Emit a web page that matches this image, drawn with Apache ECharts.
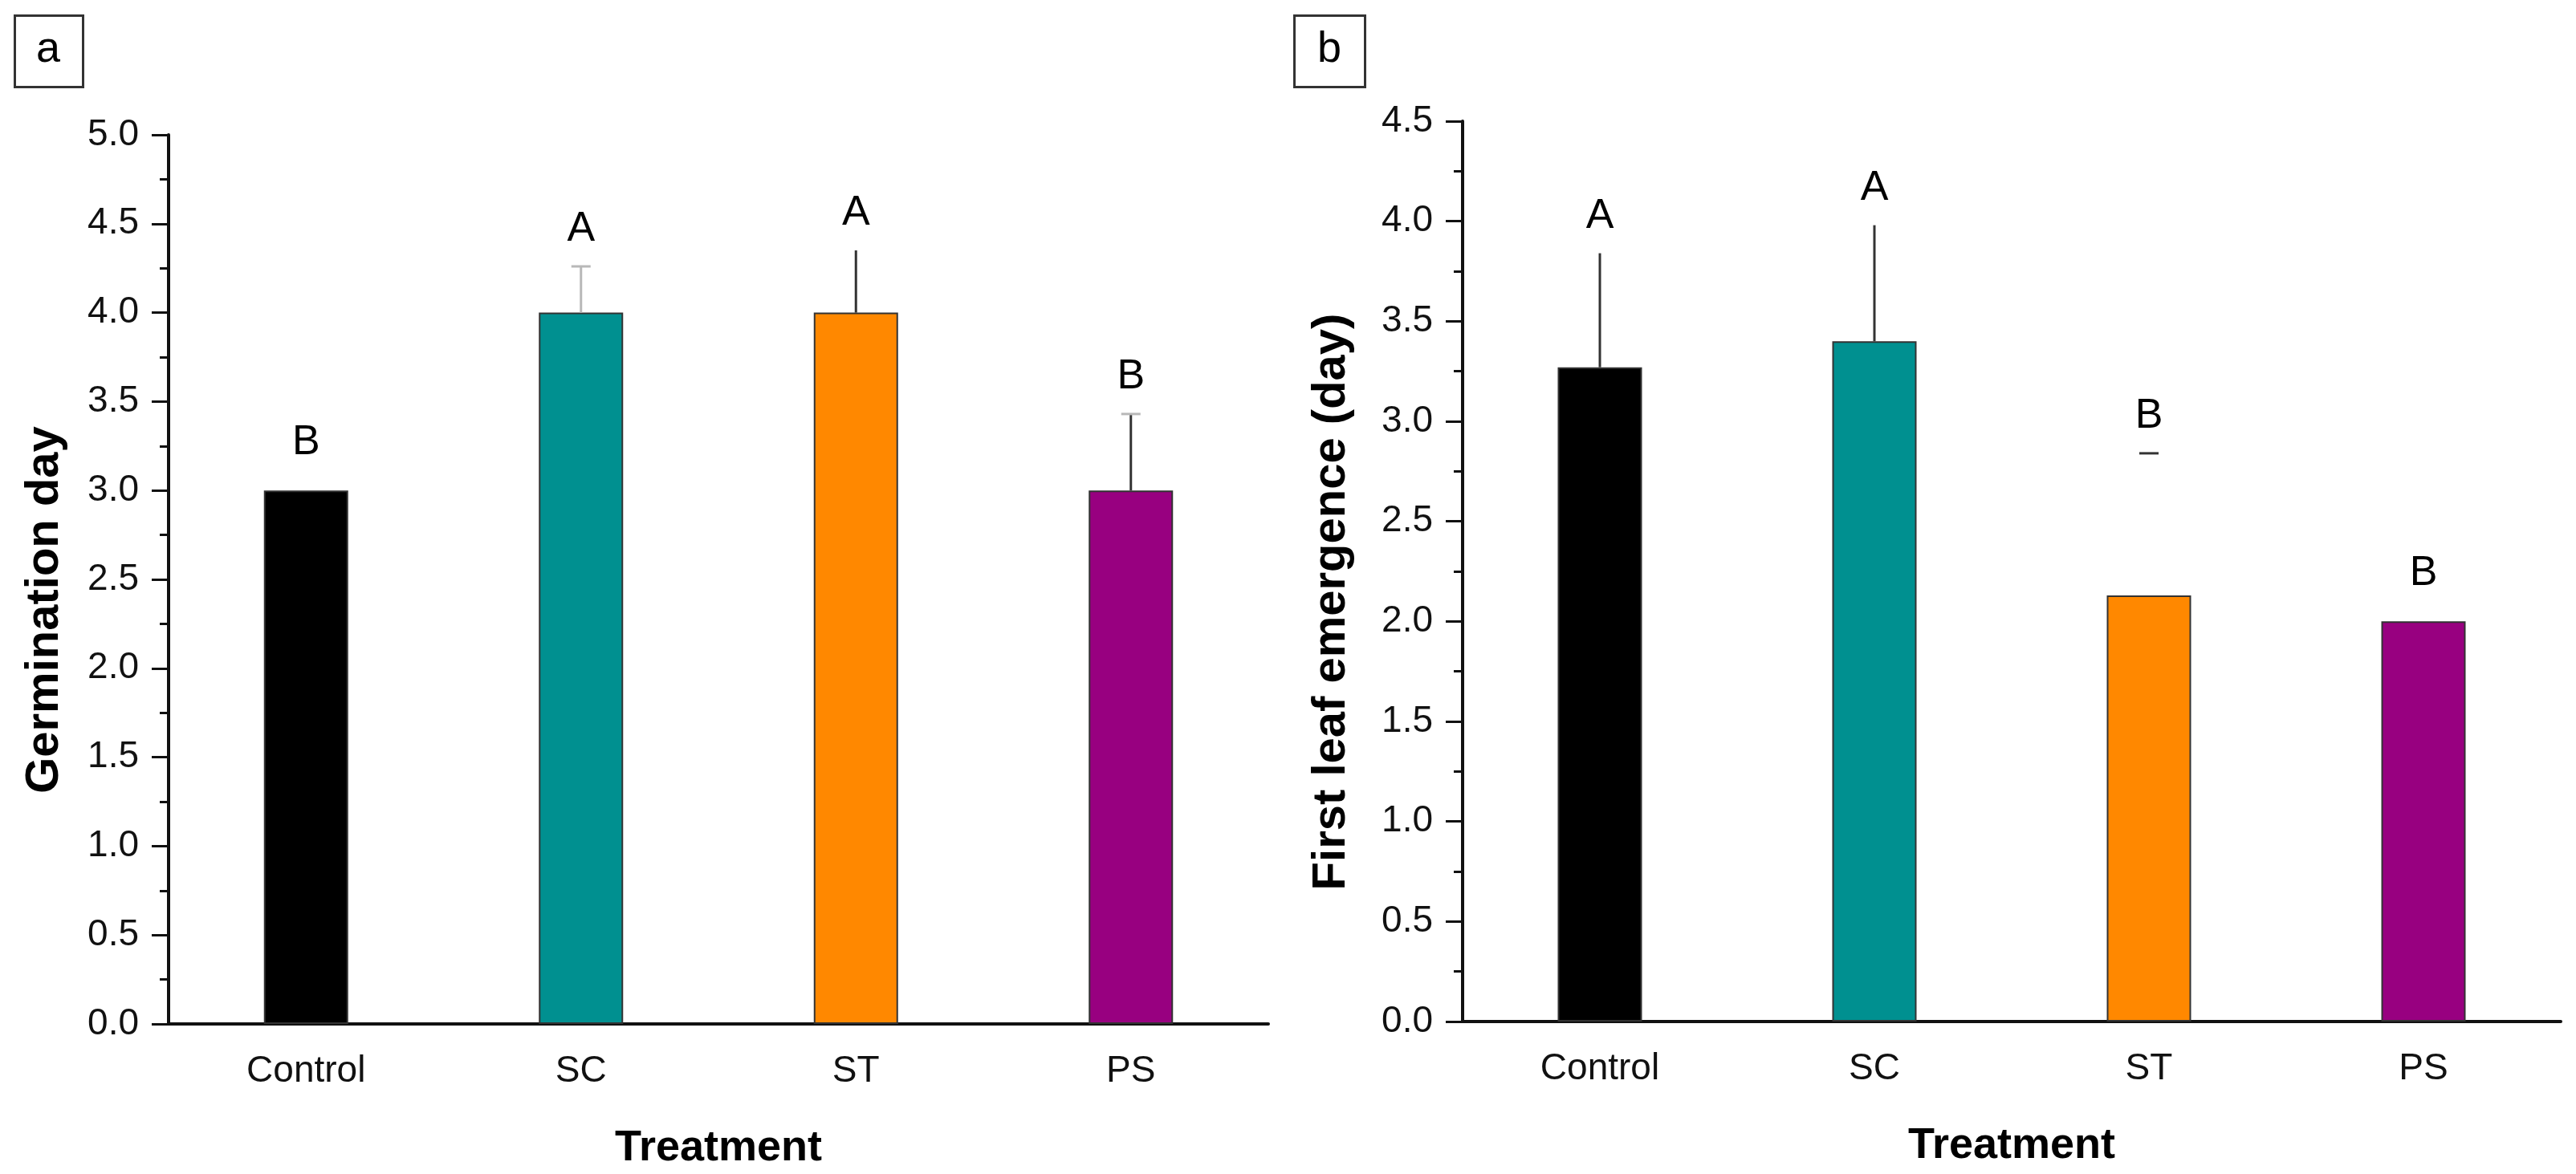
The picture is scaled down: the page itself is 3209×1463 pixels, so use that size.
<!DOCTYPE html>
<html>
<head>
<meta charset="utf-8">
<script src="https://cdn.jsdelivr.net/npm/echarts@6/dist/echarts.min.js"></script>
<style>
  html, body { margin: 0; padding: 0; background: #fff; }
  #main { width: 3209px; height: 1463px; }
</style>
</head>
<body>
<div id="main"></div>
<script>
// treatments
var categories = ['Control', 'SC', 'ST', 'PS'];
var barColors = ['#000000', '#009090', '#ff8800', '#980080'];

// (a) germination day: mean and top of the error bar
var germMean = [3.0, 4.0, 4.0, 3.0];
var germErrTop = [null, 4.26, 4.35, 3.43];
var germLetters = ['B', 'A', 'A', 'B'];

// (b) first leaf emergence (day)
var leafMean = [3.27, 3.40, 2.13, 2.00];
var leafErrTop = [3.84, 3.98, 2.84, null];
var leafLetters = ['A', 'A', 'B', 'B'];

// y tick range
var germTicks = { min: 0, max: 5, interval: 0.5 };
var leafTicks = { min: 0, max: 4.5, interval: 0.5 };

// how the error whiskers look in each panel (stem / cap)
var germErrStyle = [
    null,
    { stem: '#b8b8b8', cap: '#b8b8b8' },
    { stem: '#333333', cap: null },
    { stem: '#333333', cap: '#b8b8b8' }
];
var leafErrStyle = [
    { stem: '#333333', cap: null },
    { stem: '#333333', cap: null },
    { stem: null, cap: '#333333' },
    null
];

var FONT = 'Liberation Sans, Arial, Helvetica, sans-serif';

function barData(means) {
    return means.map(function (v, i) {
        return {
            value: v,
            itemStyle: { color: barColors[i], borderColor: '#333', borderWidth: 2 }
        };
    });
}

function errData(means, tops) {
    return means.map(function (v, i) {
        return [i, v, tops[i] == null ? v : tops[i]];
    });
}

function errRender(tops, styles, letters) {
    return function (params, api) {
        var i = params.dataIndex;
        var base = api.coord([api.value(0), api.value(1)]);
        var top = api.coord([api.value(0), api.value(2)]);
        var children = [];
        var st = styles[i];
        var hasErr = tops[i] != null;
        if (hasErr && st && st.stem) {
            children.push({
                type: 'line',
                shape: { x1: base[0], y1: base[1], x2: top[0], y2: top[1] },
                style: { stroke: st.stem, lineWidth: 3 }
            });
        }
        if (hasErr && st && st.cap) {
            children.push({
                type: 'line',
                shape: { x1: top[0] - 12, y1: top[1], x2: top[0] + 12, y2: top[1] },
                style: { stroke: st.cap, lineWidth: 3 }
            });
        }
        var gap = hasErr ? 20 : 34;
        children.push({
            type: 'text',
            style: {
                text: letters[i],
                x: top[0],
                y: top[1] - gap,
                align: 'center',
                verticalAlign: 'bottom',
                fontSize: 52,
                fontFamily: FONT,
                fill: '#000'
            }
        });
        return { type: 'group', children: children };
    };
}

function xAxisCfg(gridIndex) {
    return {
        type: 'category',
        gridIndex: gridIndex,
        data: categories,
        name: 'Treatment',
        nameLocation: 'middle',
        nameGap: 128,
        nameTextStyle: { fontSize: 54, fontWeight: 'bold', fontFamily: FONT, color: '#000' },
        axisLine: { lineStyle: { color: '#111', width: 4 } },
        axisTick: { alignWithLabel: true, length: 24, lineStyle: { color: '#111', width: 3 } },
        axisLabel: { fontSize: 46, fontFamily: FONT, color: '#111', margin: 36 },
        splitLine: { show: false }
    };
}

function yAxisCfg(gridIndex, ticks, name, gap) {
    return {
        type: 'value',
        gridIndex: gridIndex,
        min: ticks.min,
        max: ticks.max,
        interval: ticks.interval,
        name: name,
        nameLocation: 'middle',
        nameGap: gap,
        nameTextStyle: {
            fontSize: 58, fontWeight: 'bold', fontFamily: FONT, color: '#000',
            padding: [0, 76, 0, 0]
        },
        axisLine: { show: true, lineStyle: { color: '#111', width: 4 } },
        axisTick: { show: true, length: 21, lineStyle: { color: '#111', width: 3 } },
        minorTick: { show: true, splitNumber: 2, length: 11, lineStyle: { color: '#111', width: 3 } },
        axisLabel: {
            fontSize: 46, fontFamily: FONT, color: '#111', margin: 37,
            formatter: function (v) { return v.toFixed(1); }
        },
        splitLine: { show: false }
    };
}

var option = {
    animation: false,
    backgroundColor: '#fff',
    grid: [
        { left: 210, top: 168, width: 1370, height: 1110 },
        { left: 1822, top: 151, width: 1368, height: 1122 }
    ],
    xAxis: [xAxisCfg(0), xAxisCfg(1)],
    yAxis: [
        yAxisCfg(0, germTicks, 'Germination day', 125),
        yAxisCfg(1, leafTicks, 'First leaf emergence (day)', 134)
    ],
    graphic: [
        { type: 'rect', left: 17, top: 18, shape: { width: 85, height: 89 },
          style: { fill: '#fff', stroke: '#333', lineWidth: 3 } },
        { type: 'text', x: 60, y: 62, style: { text: 'a', fontSize: 54, fontFamily: FONT,
          fill: '#000', align: 'center', verticalAlign: 'middle' } },
        { type: 'rect', left: 1611, top: 18, shape: { width: 88, height: 89 },
          style: { fill: '#fff', stroke: '#333', lineWidth: 3 } },
        { type: 'text', x: 1656, y: 62, style: { text: 'b', fontSize: 54, fontFamily: FONT,
          fill: '#000', align: 'center', verticalAlign: 'middle' } }
    ],
    series: [
        { type: 'bar', xAxisIndex: 0, yAxisIndex: 0, barWidth: 105, data: barData(germMean) },
        { type: 'custom', xAxisIndex: 0, yAxisIndex: 0, z: 5,
          renderItem: errRender(germErrTop, germErrStyle, germLetters),
          data: errData(germMean, germErrTop) },
        { type: 'bar', xAxisIndex: 1, yAxisIndex: 1, barWidth: 105, data: barData(leafMean) },
        { type: 'custom', xAxisIndex: 1, yAxisIndex: 1, z: 5,
          renderItem: errRender(leafErrTop, leafErrStyle, leafLetters),
          data: errData(leafMean, leafErrTop) }
    ]
};

var myChart = echarts.init(document.getElementById('main'));
myChart.setOption(option);
</script>
</body>
</html>
